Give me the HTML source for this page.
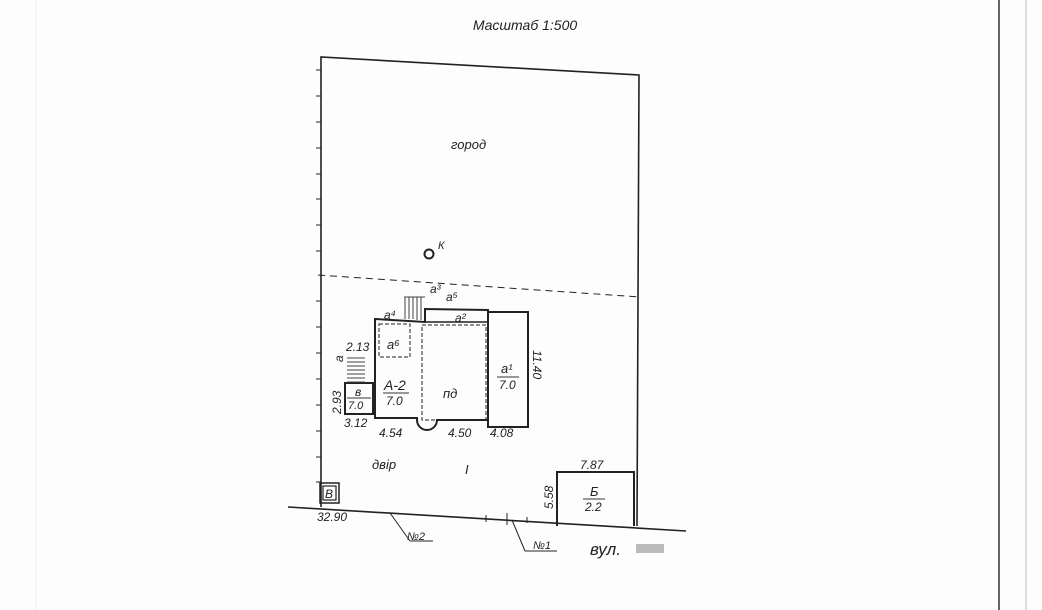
<!DOCTYPE html><html><head><meta charset="utf-8"><style>body{margin:0;background:#fff}svg{display:block}text{font-family:"Liberation Sans",sans-serif;font-style:italic;fill:#222}</style></head><body>
<svg width="1042" height="610" viewBox="0 0 1042 610" xmlns="http://www.w3.org/2000/svg">
<rect width="1042" height="610" fill="#fdfdfd"/>
<line x1="999" y1="0" x2="999" y2="610" stroke="#333" stroke-width="1.5"/>
<line x1="1026" y1="0" x2="1026" y2="610" stroke="#bbb" stroke-width="1"/>
<line x1="36" y1="0" x2="36" y2="610" stroke="#eee" stroke-width="1"/>
<text x="525" y="30" font-size="14" text-anchor="middle">Масштаб 1:500</text>
<g stroke="#222" fill="none">
<polyline points="321,507 321,57 639,75 637,526" stroke-width="1.6"/>
<line x1="288" y1="507" x2="686" y2="531" stroke-width="1.6"/>
<line x1="318" y1="275" x2="640" y2="297" stroke-width="1" stroke-dasharray="7,5"/>
<g stroke-width="1">
<line x1="316" y1="70" x2="321" y2="70"/><line x1="316" y1="96" x2="321" y2="96"/><line x1="316" y1="122" x2="321" y2="122"/><line x1="316" y1="148" x2="321" y2="148"/><line x1="316" y1="174" x2="321" y2="174"/><line x1="316" y1="199" x2="321" y2="199"/><line x1="316" y1="225" x2="321" y2="225"/><line x1="316" y1="251" x2="321" y2="251"/><line x1="316" y1="301" x2="321" y2="301"/><line x1="316" y1="327" x2="321" y2="327"/><line x1="316" y1="353" x2="321" y2="353"/><line x1="316" y1="379" x2="321" y2="379"/><line x1="316" y1="405" x2="321" y2="405"/><line x1="316" y1="431" x2="321" y2="431"/><line x1="316" y1="457" x2="321" y2="457"/><line x1="316" y1="482" x2="321" y2="482"/>
</g>
<circle cx="429" cy="254" r="4.5" stroke-width="2"/>
<path d="M375,319 L425,322 L425,309 L488,310 L488,312 L528,312 L528,427 L488,427 L488,420 L437,420 A10,10 0 0 1 417,420 L417,418 L375,418 Z" stroke-width="2"/>
<line x1="488" y1="312" x2="488" y2="420" stroke-width="2"/>
<line x1="425" y1="322" x2="488" y2="322" stroke-width="1.5"/>
<rect x="422" y="325" width="64" height="95" stroke-width="1" stroke-dasharray="4,2"/>
<rect x="379" y="324" width="31" height="33" stroke-width="1" stroke-dasharray="4,2"/>
<rect x="345" y="383" width="28" height="31" stroke-width="2"/>
<rect x="320" y="483" width="19" height="20" stroke-width="1.5"/>
<rect x="323" y="486" width="13" height="14" stroke-width="1.2"/>
<path d="M557,526 L557,472 L634,472 L634,526" stroke-width="2"/>
<g stroke-width="1"><line x1="390" y1="513" x2="410" y2="541"/><line x1="410" y1="541" x2="433" y2="541"/><line x1="512" y1="520" x2="525" y2="551"/><line x1="525" y1="551" x2="557" y2="551"/>
<line x1="486" y1="515" x2="486" y2="522"/><line x1="507" y1="513" x2="507" y2="525"/><line x1="527" y1="517" x2="527" y2="523"/></g>
</g>
<g stroke="#444" stroke-width="1">
<line x1="405" y1="297" x2="405" y2="319"/><line x1="409" y1="297" x2="409" y2="319"/><line x1="413" y1="297" x2="413" y2="319"/><line x1="417" y1="297" x2="417" y2="320"/><line x1="421" y1="297" x2="421" y2="320"/><line x1="404" y1="297" x2="425" y2="297"/>
<line x1="347" y1="358" x2="365" y2="358"/><line x1="347" y1="362" x2="365" y2="362"/><line x1="347" y1="366" x2="365" y2="366"/><line x1="347" y1="370" x2="365" y2="370"/><line x1="347" y1="374" x2="365" y2="374"/><line x1="347" y1="378" x2="365" y2="378"/><line x1="347" y1="382" x2="365" y2="382"/>
</g>
<g font-size="13">
<text x="451" y="149">город</text>
<text x="438" y="249" font-size="11">К</text>
<text x="430" y="293" font-size="12">а³</text>
<text x="446" y="301" font-size="12">а⁵</text>
<text x="384" y="319" font-size="12">а⁴</text>
<text x="455" y="322" font-size="12">а²</text>
<text x="387" y="349">а⁶</text>
<text x="343" y="362" font-size="12" transform="rotate(-90 343 362)">а</text>
<text x="346" y="351" font-size="12">2.13</text>
<text x="384" y="390" font-size="14">А-2</text>
<line x1="383" y1="393" x2="409" y2="393" stroke="#333"/>
<text x="386" y="405" font-size="12">7.0</text>
<text x="443" y="398">пд</text>
<text x="501" y="373">а¹</text>
<line x1="497" y1="377" x2="519" y2="377" stroke="#333"/>
<text x="499" y="389" font-size="12">7.0</text>
<text x="355" y="396" font-size="12">в</text>
<line x1="347" y1="398" x2="371" y2="398" stroke="#333"/>
<text x="348" y="409" font-size="11">7.0</text>
<text x="341" y="414" font-size="12" transform="rotate(-90 341 414)">2.93</text>
<text x="533" y="350" font-size="12" transform="rotate(90 533 350)">11.40</text>
<text x="344" y="427" font-size="12">3.12</text>
<text x="379" y="437" font-size="12">4.54</text>
<text x="448" y="437" font-size="12">4.50</text>
<text x="490" y="437" font-size="12">4.08</text>
<text x="372" y="469">двір</text>
<text x="465" y="474">І</text>
<text x="325" y="498" font-size="12">В</text>
<text x="317" y="521" font-size="12">32.90</text>
<text x="580" y="469" font-size="12">7.87</text>
<text x="553" y="509" font-size="12" transform="rotate(-90 553 509)">5.58</text>
<text x="590" y="496" font-size="13">Б</text>
<line x1="583" y1="499" x2="605" y2="499" stroke="#333"/>
<text x="585" y="511" font-size="12">2.2</text>
<text x="407" y="540" font-size="11">№2</text>
<text x="533" y="549" font-size="11">№1</text>
<text x="590" y="555" font-size="17">вул.</text>
<rect x="636" y="544" width="28" height="9" fill="#bbb"/>
</g>
</svg></body></html>
